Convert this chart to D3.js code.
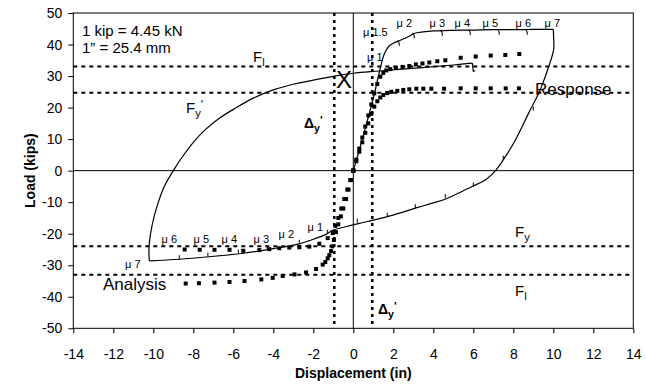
<!DOCTYPE html>
<html><head><meta charset="utf-8">
<script src="https://cdn.jsdelivr.net/npm/d3@7"></script>
<style>body{margin:0;background:#fff}svg{display:block}text{font-family:"Liberation Sans",Arial,sans-serif}</style>
</head><body><svg id="c" width="646" height="385"></svg>
<script>
// ---------------- data ----------------
const xTicks = d3.range(-14, 15, 2);
const yTicks = d3.range(-50, 51, 10);
// measured hysteresis response (solid line), in three branches: [displacement, load]
const loadX = [0,0.3,0.6,0.9,1.15,1.33,1.55,1.8,2.05,2.3,2.8,3.04,3.5,4,5,6,7,8,9,10.0];
const loadY = [0,6.5,13.5,20.5,27,32,37,39.6,40.6,41.2,42.6,43.5,44.0,44.3,44.5,44.6,44.7,44.7,44.8,44.8];
const unloadX = [10.0,10.02,10.02,9.9,9.78,9.55,9.28,8.78,8.12,7.62,7.12,6.62,5.95,5.3,4.62,3.9,3.1,2.4,1.7,1.0,0.3,-0.4,-1.03,-1.36,-2.2,-2.7,-3.86,-5.5,-7.2,-8.7,-10.2];
const unloadY = [44.8,41.7,38.5,35.5,33.2,29,24.7,18.4,9.9,4.6,0.1,-2.9,-5.0,-7,-9.0,-10.4,-11.9,-13.3,-14.6,-15.7,-16.7,-17.8,-18.9,-20.2,-22.2,-23.2,-24.6,-26.2,-27.3,-28.1,-28.6];
const reloadX = [-10.2,-10.22,-10.2,-10.05,-9.8,-9.45,-9.0,-8.5,-8.0,-7.4,-6.7,-5.9,-5.0,-4.0,-3.0,-2.0,-1.0,0,1.3,3.46,5.0,5.95];
const reloadY = [-28.6,-25.5,-23.0,-17,-11,-5,0,4.8,9,13,16.6,19.8,23.0,25.6,27.4,28.7,29.9,30.9,31.6,32.7,33.5,34.1];
const endX = [5.95,6.0,6.1];
const endY = [34.1,31.5,31.7];
// small hooks on the response curve (cycle markers)
const hookDownX = [2.3,3.05,4.45,5.85,7.3,8.7];
const hookDownY = [41.2,43.6,44.4,44.6,44.7,44.7];
const hookUpX = [-8.7,-7.27,-5.75,-5.5,-4.3,-2.7,-1.3,0.2,1.7,3.1,4.6,6.0,7.5,9.0];
const hookUpY = [-28.1,-27.3,-26.3,-26.2,-25.1,-23.2,-20.0,-16.5,-14.6,-11.9,-8.7,-5.0,3.5,19];
// analysis envelopes (square markers)
const anaPosHiX = [0,0.15,0.3,0.45,0.6,0.75,0.9,1.05,1.2,1.35,1.5,1.65,1.85,2.13,2.46,2.8,3.13,3.46,3.8,4.2,4.6,5.37,6.12,6.87,7.6,8.3];
const anaPosHiY = [0,3.5,7,10.5,14,17.5,21,24.5,27.5,29.8,31,31.8,32.2,32.6,32.9,33.2,33.7,34.0,34.3,34.7,35.0,35.8,36.2,36.5,36.7,37.0];
const anaPosLoX = [0,0.15,0.3,0.45,0.6,0.75,0.9,1.05,1.2,1.35,1.5,1.7,1.9,2.2,2.5,2.8,3.15,3.5,3.9,4.54,5.37,6.12,6.87,7.62,8.28];
const anaPosLoY = [0,3,6,9,12,15,18,20.3,22,23.2,24,24.6,25,25.3,25.6,25.8,26,26,26,26,26.1,26.1,26.1,26.1,26.1];
const anaNegHiX = [0,-0.15,-0.3,-0.45,-0.6,-0.75,-0.9,-1.03,-1.28,-1.7,-2.2,-2.7,-3.2,-3.7,-4.2,-4.7,-5.5,-6.19,-6.94,-7.68,-8.43];
const anaNegHiY = [0,-3,-6,-9,-12,-15,-17.5,-19.8,-21.4,-23.2,-24.1,-24.3,-24.4,-24.6,-24.9,-25.2,-25.4,-25.1,-25.1,-25.1,-25.0];
const anaNegLoX = [0,-0.12,-0.24,-0.36,-0.5,-0.62,-0.75,-0.87,-0.97,-1.05,-1.11,-1.2,-1.28,-1.4,-1.53,-1.86,-2.36,-2.94,-3.53,-4.03,-4.6,-5.44,-6.19,-6.94,-7.72,-8.38];
const anaNegLoY = [0,-3,-6,-9,-12,-14.5,-17,-19.5,-22,-24,-25.5,-26.8,-27.8,-29,-29.8,-31.2,-32.3,-32.9,-33.4,-34.0,-34.5,-35.0,-35.3,-35.5,-35.7,-35.8];
// reference levels
const levelLoads = [33, 24.7, -24, -33];
const levelDisps = [-0.95, 0.95];
// ductility labels
const muTopLabels = ["\u03bc 2","\u03bc 3","\u03bc 4","\u03bc 5","\u03bc 6","\u03bc 7"];
const muTopX = [2.55,4.2,5.45,6.85,8.5,9.95];
const muTopY = [44.8,44.8,44.8,44.8,44.8,44.8];
const muBotLabels = ["\u03bc 6","\u03bc 5","\u03bc 4","\u03bc 3","\u03bc 2","\u03bc 1"];
const muBotX = [-9.2,-7.6,-6.2,-4.6,-3.35,-1.9];
const muBotY = [-22.8,-22.8,-22.8,-22.8,-21.5,-19.2];

// ---------------- chart ----------------
const svg = d3.select("#c");
const x = d3.scaleLinear().domain([-14,14]).range([73.3,633.3]);
const y = d3.scaleLinear().domain([-50,50]).range([328.3,13]);
const pts = (xs, ys) => xs.map((v,i)=>[v, ys[i]]);

// zero lines
svg.append("line").attr("x1",x(-14)).attr("x2",x(14)).attr("y1",y(0)).attr("y2",y(0)).attr("stroke","#000").attr("stroke-width",1);
svg.append("line").attr("x1",x(0)).attr("x2",x(0)).attr("y1",y(-50)).attr("y2",y(50)).attr("stroke","#000").attr("stroke-width",1);

// dotted reference lines
levelLoads.forEach(v=>svg.append("line").attr("x1",x(-14)).attr("x2",x(14)).attr("y1",y(v)).attr("y2",y(v))
  .attr("stroke","#000").attr("stroke-width",2).attr("stroke-dasharray","4,4"));
levelDisps.forEach(v=>svg.append("line").attr("x1",x(v)).attr("x2",x(v)).attr("y1",y(50)).attr("y2",y(-50))
  .attr("stroke","#000").attr("stroke-width",2.5).attr("stroke-dasharray","3,4"));

// axes
const fmt = d => String(d);
const ya = svg.append("g").attr("transform",`translate(${x(-14)},0)`)
  .call(d3.axisLeft(y).tickValues(yTicks).tickSize(5).tickPadding(6).tickFormat(fmt));
const xa = svg.append("g").attr("transform",`translate(0,${y(-50)})`)
  .call(d3.axisBottom(x).tickValues(xTicks).tickSize(5).tickPadding(16).tickFormat(fmt));
[ya,xa].forEach(g=>{g.select(".domain").remove();g.selectAll("line").attr("stroke","#000");
  g.selectAll("text").attr("font-size",14).attr("fill","#000").attr("font-family","Liberation Sans, Arial, sans-serif");});
svg.append("rect").attr("x",x(-14)).attr("y",y(50)).attr("width",x(14)-x(-14)).attr("height",y(-50)-y(50))
  .attr("fill","none").attr("stroke","#000").attr("stroke-width",1);

svg.append("text").attr("x",(x(-14)+x(14))/2).attr("y",378).attr("text-anchor","middle")
  .attr("font-size",14).attr("font-weight","bold").text("Displacement (in)");
svg.append("text").attr("transform",`translate(35,${y(0)}) rotate(-90)`).attr("text-anchor","middle")
  .attr("font-size",14).attr("font-weight","bold").text("Load (kips)");

// response line
const smooth = d3.line().x(d=>x(d[0])).y(d=>y(d[1])).curve(d3.curveCatmullRom.alpha(0.5));
const straight = d3.line().x(d=>x(d[0])).y(d=>y(d[1]));
[[loadX,loadY],[unloadX,unloadY],[reloadX,reloadY]].forEach(b=>
  svg.append("path").attr("d",smooth(pts(b[0],b[1]))).attr("fill","none").attr("stroke","#000").attr("stroke-width",1.2));
svg.append("path").attr("d",straight(pts(endX,endY))).attr("fill","none").attr("stroke","#000").attr("stroke-width",1.2);
pts(hookDownX,hookDownY).forEach(d=>svg.append("path")
  .attr("d",`M${x(d[0])-2},${y(d[1])}Q${x(d[0])},${y(d[1])} ${x(d[0])},${y(d[1])+5}`).attr("fill","none").attr("stroke","#000").attr("stroke-width",1.1));
pts(hookUpX,hookUpY).forEach(d=>svg.append("line").attr("x1",x(d[0])).attr("x2",x(d[0])).attr("y1",y(d[1])).attr("y2",y(d[1])-4)
  .attr("stroke","#000").attr("stroke-width",1));

// analysis squares
[[anaPosHiX,anaPosHiY],[anaPosLoX,anaPosLoY],[anaNegHiX,anaNegHiY],[anaNegLoX,anaNegLoY]].forEach(s=>{
  svg.append("g").selectAll("rect").data(pts(s[0],s[1])).join("rect")
    .attr("x",d=>x(d[0])-2).attr("y",d=>y(d[1])-2).attr("width",4).attr("height",4).attr("fill","#000");
});

// labels
const serif = "Liberation Serif, Times New Roman, serif";
svg.append("text").attr("x",82).attr("y",36).attr("font-family",serif).attr("font-size",15).text("1 kip = 4.45 kN");
svg.append("text").attr("x",82).attr("y",53).attr("font-family",serif).attr("font-size",15).text("1\u201d = 25.4 mm");

function sub(tx, ty, main, s, prime, bold, size){
  const t = svg.append("text").attr("x",tx).attr("y",ty).attr("font-size",size||15).attr("font-weight",bold?"bold":"normal");
  t.append("tspan").text(main);
  t.append("tspan").attr("dy",4).attr("font-size",(size||15)*0.75).text(s);
  if(prime) t.append("tspan").attr("dy",-8).attr("font-size",(size||15)*0.8).text("'");
}
sub(253,62,"F","l",false,false,15);
sub(186,113,"F","y",true,false,15);
sub(304,128,"\u0394","y",true,true,14);
sub(378,314,"\u0394","y",true,true,14);
sub(515,237,"F","y",false,false,15);
sub(515,296,"F","l",false,false,15);

svg.append("text").attr("x",535).attr("y",95).attr("font-size",17).text("Response");
svg.append("text").attr("x",103).attr("y",290).attr("font-size",17).text("Analysis");
svg.append("text").attr("x",344).attr("y",88).attr("text-anchor","middle").attr("font-size",24).text("X");

// ductility labels
svg.append("text").attr("x",363).attr("y",36).attr("font-size",11).text("\u03bc 1.5");
svg.append("text").attr("x",367).attr("y",61).attr("font-size",11).text("\u03bc 1");
svg.append("text").attr("x",125).attr("y",268).attr("font-size",11).text("\u03bc 7");
svg.append("g").selectAll("text").data(muTopLabels).join("text")
  .attr("x",(d,i)=>x(muTopX[i])).attr("y",(d,i)=>y(muTopY[i])-2).attr("text-anchor","middle").attr("font-size",11).text(d=>d);
svg.append("g").selectAll("text").data(muBotLabels).join("text")
  .attr("x",(d,i)=>x(muBotX[i])).attr("y",(d,i)=>y(muBotY[i])).attr("text-anchor","middle").attr("font-size",11).text(d=>d);
</script></body></html>
